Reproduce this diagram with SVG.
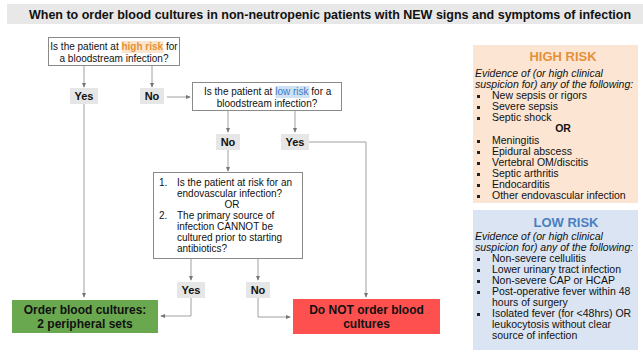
<svg xmlns="http://www.w3.org/2000/svg" width="643" height="352" viewBox="0 0 643 352">
<style>
text{font-family:"Liberation Sans",Arial,sans-serif;fill:#111}
.q{font-size:10px}
.lbl{font-size:11px;font-weight:bold}
.lblbg{fill:#e6e6e6}
.box{fill:#fff;stroke:#8a8a8a;stroke-width:1}
.big{font-size:12px;font-weight:bold}
.p{font-size:10.5px}
.it{font-style:italic}
.con{fill:none;stroke:#a0a0a0;stroke-width:1}
.bul{fill:#222}
</style>
<defs>
<marker id="ah" viewBox="0 0 6 6" refX="5" refY="3" markerWidth="5" markerHeight="5" orient="auto" markerUnits="userSpaceOnUse">
<path d="M0,0.5 L6,3 L0,5.5 Z" fill="#777"/>
</marker>
</defs>
<rect x="0" y="0" width="643" height="352" fill="#fff"/>
<g id="title">
<rect x="7" y="4" width="636" height="20" fill="#e8e8e8"/>
<text x="330" y="19" text-anchor="middle" style="font-size:12.5px;font-weight:bold">When to order blood cultures in non-neutropenic patients with NEW signs and symptoms of infection</text>
</g>
<g id="connectors">
<path class="con" d="M84,66 V87" marker-end="url(#ah)"/>
<path class="con" d="M152,66 V87" marker-end="url(#ah)"/>
<path class="con" d="M167,97 H190" marker-end="url(#ah)"/>
<path class="con" d="M84,104 V297" marker-end="url(#ah)"/>
<path class="con" d="M228,111 V132" marker-end="url(#ah)"/>
<path class="con" d="M295,111 V132" marker-end="url(#ah)"/>
<path class="con" d="M228,150 V171" marker-end="url(#ah)"/>
<path class="con" d="M309,142 H366 V297" marker-end="url(#ah)"/>
<path class="con" d="M191,259 V280" marker-end="url(#ah)"/>
<path class="con" d="M258,259 V280" marker-end="url(#ah)"/>
<path class="con" d="M191,298 V316 H161" marker-end="url(#ah)"/>
<path class="con" d="M258,298 V317 H290" marker-end="url(#ah)"/>
</g>
<g id="q1">
<rect class="box" x="48.5" y="37.5" width="131" height="28"/>
<rect x="121.5" y="41" width="42" height="12" fill="#fce5cd"/>
<text class="q" x="50.3" y="50">Is the patient at <tspan style="font-weight:bold;fill:#e69138">high risk</tspan> for</text>
<text class="q" x="114" y="62" text-anchor="middle">a bloodstream infection?</text>
</g>
<g id="yes1"><rect class="lblbg" x="70" y="88" width="28" height="16"/><text class="lbl" x="84" y="100" text-anchor="middle">Yes</text></g>
<g id="no1"><rect class="lblbg" x="140" y="88" width="24" height="16"/><text class="lbl" x="152" y="100" text-anchor="middle">No</text></g>
<g id="q2">
<rect class="box" x="192.5" y="82.5" width="149" height="28"/>
<rect x="275.5" y="86" width="34" height="12" fill="#cfe2f3"/>
<text class="q" x="204" y="95">Is the patient at <tspan style="fill:#3d78c6">low risk</tspan> for a</text>
<text class="q" x="267" y="107" text-anchor="middle">bloodstream infection?</text>
</g>
<g id="no2"><rect class="lblbg" x="216" y="134" width="24" height="16"/><text class="lbl" x="228" y="146" text-anchor="middle">No</text></g>
<g id="yes2"><rect class="lblbg" x="281" y="134" width="28" height="16"/><text class="lbl" x="295" y="146" text-anchor="middle">Yes</text></g>
<g id="q3">
<rect class="box" x="153.5" y="172.5" width="149" height="86"/>
<text class="q" x="159" y="186">1.</text>
<text class="q" x="177" y="186">Is the patient at risk for an</text>
<text class="q" x="177" y="197">endovascular infection?</text>
<text class="q" x="232" y="208" text-anchor="middle">OR</text>
<text class="q" x="159" y="219">2.</text>
<text class="q" x="177" y="219">The primary source of</text>
<text class="q" x="177" y="230">infection CANNOT be</text>
<text class="q" x="177" y="241">cultured prior to starting</text>
<text class="q" x="177" y="252">antibiotics?</text>
</g>
<g id="yes3"><rect class="lblbg" x="177" y="282" width="28" height="16"/><text class="lbl" x="191" y="294" text-anchor="middle">Yes</text></g>
<g id="no3"><rect class="lblbg" x="246" y="282" width="24" height="16"/><text class="lbl" x="258" y="294" text-anchor="middle">No</text></g>
<g id="order">
<rect x="12" y="300" width="146" height="33" fill="#6aa84f"/>
<text class="big" x="85" y="314" text-anchor="middle">Order blood cultures:</text>
<text class="big" x="85" y="328" text-anchor="middle">2 peripheral sets</text>
</g>
<g id="donot">
<rect x="293" y="299" width="147" height="35" fill="#ff5050"/>
<text class="big" x="366.5" y="314" text-anchor="middle">Do NOT order blood</text>
<text class="big" x="366.5" y="328" text-anchor="middle">cultures</text>
</g>
<g id="highrisk">
<rect x="473" y="45" width="165" height="158" fill="#fce5d3"/>
<text x="563" y="61" text-anchor="middle" style="font-size:13px;font-weight:bold;fill:#e69138">HIGH RISK</text>
<text class="p it" x="475" y="77">Evidence of (or high clinical</text>
<text class="p it" x="475" y="88">suspicion for) any of the following:</text>
<g class="bul">
<rect x="477" y="95" width="3" height="3"/><rect x="477" y="106" width="3" height="3"/><rect x="477" y="117" width="3" height="3"/>
<rect x="477" y="140" width="3" height="3"/><rect x="477" y="151" width="3" height="3"/><rect x="477" y="162" width="3" height="3"/>
<rect x="477" y="173" width="3" height="3"/><rect x="477" y="184" width="3" height="3"/><rect x="477" y="195" width="3" height="3"/>
</g>
<text class="p" x="492" y="99">New sepsis or rigors</text>
<text class="p" x="492" y="110">Severe sepsis</text>
<text class="p" x="492" y="121">Septic shock</text>
<text class="p" x="563" y="132" text-anchor="middle" font-weight="bold">OR</text>
<text class="p" x="492" y="144">Meningitis</text>
<text class="p" x="492" y="155">Epidural abscess</text>
<text class="p" x="492" y="166">Vertebral OM/discitis</text>
<text class="p" x="492" y="177">Septic arthritis</text>
<text class="p" x="492" y="188">Endocarditis</text>
<text class="p" x="492" y="199">Other endovascular infection</text>
</g>
<g id="lowrisk">
<rect x="473" y="210" width="165" height="140" fill="#dae4f2"/>
<text x="566" y="227" text-anchor="middle" style="font-size:13px;font-weight:bold;fill:#4a7fc1">LOW RISK</text>
<text class="p it" x="475" y="240">Evidence of (or high clinical</text>
<text class="p it" x="475" y="251">suspicion for) any of the following:</text>
<g class="bul">
<rect x="477" y="258" width="3" height="3"/><rect x="477" y="269" width="3" height="3"/><rect x="477" y="280" width="3" height="3"/>
<rect x="477" y="291" width="3" height="3"/><rect x="477" y="313" width="3" height="3"/>
</g>
<text class="p" x="492" y="262">Non-severe cellulitis</text>
<text class="p" x="492" y="273">Lower urinary tract infection</text>
<text class="p" x="492" y="284">Non-severe CAP or HCAP</text>
<text class="p" x="492" y="295">Post-operative fever within 48</text>
<text class="p" x="492" y="306">hours of surgery</text>
<text class="p" x="492" y="317">Isolated fever (for &lt;48hrs) OR</text>
<text class="p" x="492" y="328">leukocytosis without clear</text>
<text class="p" x="492" y="339">source of infection</text>
</g>
</svg>
